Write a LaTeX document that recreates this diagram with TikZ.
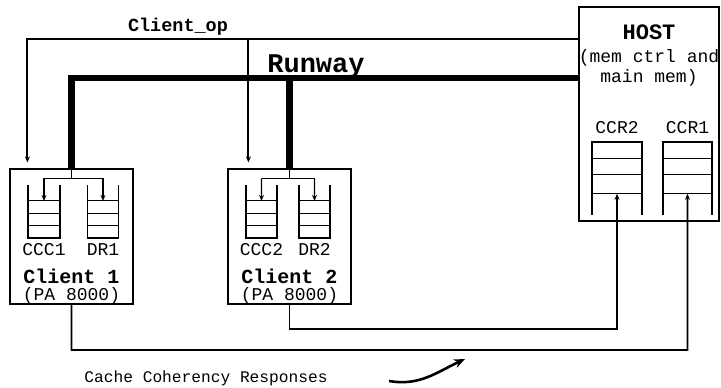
\documentclass[tikz,border=0pt]{standalone}
\usepackage{fontspec}
\setmainfont{Liberation Mono}
\usetikzlibrary{arrows.meta, positioning, calc}
\tikzset{
  unit/.style={draw=black, line width=1.2pt, inner sep=0pt},
  queue/.style={inner sep=0pt, outer sep=0pt},
  wall/.style={line width=1.1pt},
  bus/.style={line width=2pt},
  runway/.style={line width=6.5pt},
  reply/.style={line width=1.6pt},
  tip/.style={-{Stealth[length=6pt, width=5pt]}},
  lbl/.style={font=\fontsize{18}{18}\selectfont, inner sep=0pt, anchor=base},
  tag/.style={font=\fontsize{20}{20}\selectfont\bfseries, inner sep=0pt, anchor=base},
}

\begin{document}
\begin{tikzpicture}[x=1pt, y=-1pt]
  \useasboundingbox (0,0) rectangle (721,388);

  % boxes
  \node[unit, minimum width=123pt, minimum height=135pt] (client1) at (71.5,236.5) {};
  \node[unit, minimum width=123pt, minimum height=135pt] (client2) at (289.5,236.5) {};
  \node[unit, minimum width=140pt, minimum height=214pt] (host) at (649,114) {};

  % queues
  \node[queue, minimum width=32pt, minimum height=53pt] (ccc1) at (44,211.5) {};
  \node[queue, minimum width=31pt, minimum height=53pt] (dr1) at (103,211.5) {};
  \node[queue, minimum width=31pt, minimum height=53pt] (ccc2) at (261.5,211.5) {};
  \node[queue, minimum width=31pt, minimum height=53pt] (dr2) at (314.5,211.5) {};
  \node[queue, minimum width=50pt, minimum height=73pt] (ccr2) at (617,178.5) {};
  \node[queue, minimum width=49pt, minimum height=73pt] (ccr1) at (687.5,178.5) {};

  \foreach \q in {ccc1,dr1,ccc2,dr2} {
    \draw[wall] (\q.north west) -- (\q.south west) -- (\q.south east) -- (\q.north east);
    \foreach \f in {0.3,0.53,0.77}
      \draw[wall] ($(\q.north west)!\f!(\q.south west)$) -- ($(\q.north east)!\f!(\q.south east)$);
  }
  \foreach \q in {ccr2,ccr1} {
    \draw[wall] (\q.south west) -- (\q.north west) -- (\q.north east) -- (\q.south east);
    \foreach \f in {0.23,0.45,0.71}
      \draw[wall] ($(\q.north west)!\f!(\q.south west)$) -- ($(\q.north east)!\f!(\q.south east)$);
  }

  % labels
  \node[lbl] (ccc1lbl) at (ccc1.south |- 0,255) {CCC1};
  \node[lbl] (dr1lbl) at (dr1.south |- 0,255) {DR1};
  \node[lbl] (ccc2lbl) at (ccc2.south |- 0,255) {CCC2};
  \node[lbl] (dr2lbl) at (dr2.south |- 0,255) {DR2};
  \node[tag] (name1) at (client1.south |- 0,283) {Client 1};
  \node[lbl] (cpu1) at (client1.south |- 0,300) {(PA 8000)};
  \node[tag] (name2) at (client2.south |- 0,283) {Client 2};
  \node[lbl] (cpu2) at (client2.south |- 0,300) {(PA 8000)};
  \node[tag, font=\fontsize{22}{22}\selectfont\bfseries] (hostname) at (host.north |- 0,39) {HOST};
  \node[lbl] (hostrole) at (host.north |- 0,62) {(mem ctrl and};
  \node[lbl] (hostmem) at (host.north |- 0,82) {main mem)};
  \node[lbl] (ccr2lbl) at (ccr2.north |- 0,133) {CCR2};
  \node[lbl] (ccr1lbl) at (ccr1.north |- 0,133) {CCR1};
  \node[tag, font=\fontsize{18.5}{18.5}\selectfont\bfseries] (oplbl) at (178,31) {Client\_op};
  \node[tag, font=\fontsize{27}{27}\selectfont\bfseries] (rwlbl) at (316,72) {Runway};
  \node[lbl, font=\fontsize{16.2}{16.2}\selectfont] (cclbl) at (206,382) {Cache Coherency Responses};

  % Client_op and Runway
  \coordinate (opy) at (0,39);
  \coordinate (rwy) at (0,78);
  \coordinate (op1) at ([xshift=18pt, yshift=6pt]client1.north west);
  \coordinate (op2) at ([xshift=21pt, yshift=6pt]client2.north west);
  \draw[bus, tip] (host.west |- opy) -| (op1);
  \draw[bus, tip] (op2 |- opy) -- (op2);
  \draw[runway] (host.west |- rwy) -| (client1.north);
  \draw[runway] (client2.north |- rwy) -- (client2.north);

  % inside the clients
  \foreach \c/\a/\b in {client1/ccc1/dr1, client2/ccc2/dr2} {
    \coordinate (\c-fork) at ([yshift=-10pt]\c.north);
    \draw[wall] (\c.north) -- (\c-fork);
    \draw[wall] (\a.north |- \c-fork) -- (\b.north |- \c-fork);
    \draw[wall, tip] (\a.north |- \c-fork) -- ($(\a.north)!0.3!(\a.south)$);
    \draw[wall, tip] (\b.north |- \c-fork) -- ($(\b.north)!0.3!(\b.south)$);
  }

  % cache coherency responses
  \coordinate (ry1) at (0,350);
  \coordinate (ry2) at (0,329);
  \draw[reply, tip] (client1.south) |- (ccr1.south |- ry1) -- ($(ccr1.north)!0.71!(ccr1.south)$);
  \draw[reply, tip] (client2.south) |- (ccr2.south |- ry2) -- ($(ccr2.north)!0.71!(ccr2.south)$);

  \coordinate (swoosh0) at (389,381);
  \coordinate (swoosh1) at (465,359);
  \draw[line width=2.6pt, -{Stealth[length=11pt, width=9pt]}] (swoosh0) to[out=-10, in=205] (swoosh1);
\end{tikzpicture}
\end{document}
